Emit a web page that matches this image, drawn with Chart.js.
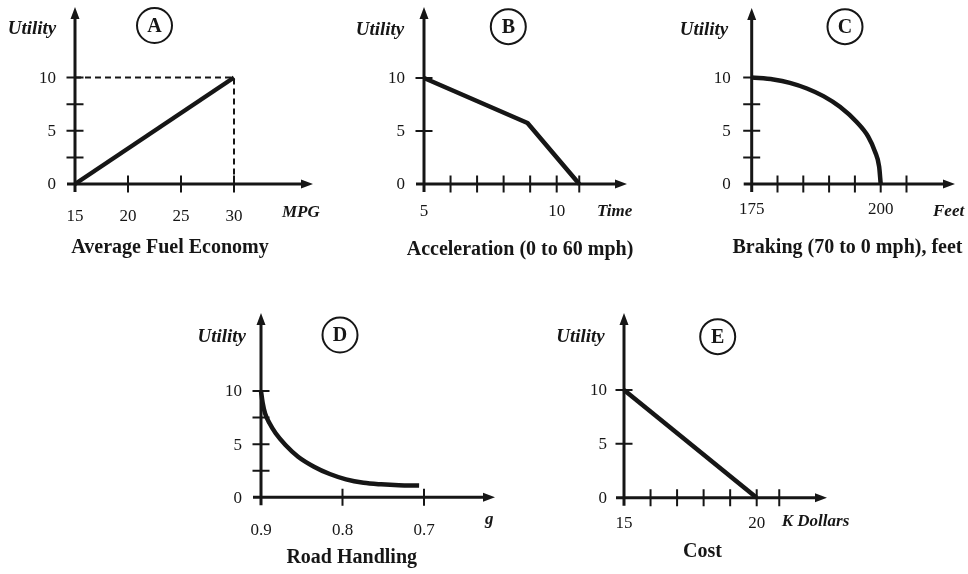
<!DOCTYPE html>
<html>
<head>
<meta charset="utf-8">
<script src="https://cdn.jsdelivr.net/npm/chart.js@4/dist/chart.umd.min.js"></script>
<style>
  html, body { margin: 0; padding: 0; background: #fff; }
  #stage { position: relative; width: 968px; height: 574px; overflow: hidden; background: #fff; }
  #stage canvas { position: absolute; left: 0; top: 0; }
</style>
</head>
<body>
<div id="stage"></div>
<script>
// ---- Utility functions for five car attributes (utility 0 to 10) ----

// A: average fuel economy
const fuelMpg = [15, 30];
const fuelUtility = [0, 10];
const fuelGuideMpg = [15, 30, 30];
const fuelGuideUtility = [10, 10, 0];
const fuelXTicks = [20, 25, 30];
const fuelYTicks = [2.5, 5, 7.5, 10];
const fuelXLabels = [15, 20, 25, 30];

// B: acceleration, 0 to 60 mph time
const accelTime = [5, 8.9, 10.85];
const accelUtility = [10, 5.75, 0];
const accelXTicks = [6, 7, 8, 9, 10, 10.85];
const accelYTicks = [5, 10];
const accelXLabels = [5, 10];

// C: braking distance, 70 to 0 mph
const brakeFeet = [175, 179.2, 182.4, 185.7, 188.9, 192.1, 195.3, 197.6, 198.9, 199.7, 200];
const brakeUtility = [10, 9.81, 9.5, 8.97, 8.25, 7.25, 5.84, 4.43, 3.03, 1.62, 0];
const brakeXTicks = [180, 185, 190, 195, 200, 205];
const brakeYTicks = [2.5, 5, 7.5, 10];
const brakeXLabels = [175, 200];

// D: road handling, lateral g
const handlingG = [0.9, 0.898, 0.895, 0.8895, 0.882, 0.870, 0.8545, 0.835, 0.8156, 0.7957, 0.7742, 0.7526, 0.731, 0.706];
const handlingUtility = [10, 8.9, 7.9, 6.96, 6.02, 4.92, 3.82, 2.88, 2.19, 1.69, 1.37, 1.22, 1.13, 1.1];
const handlingXTicks = [0.8, 0.7];
const handlingYTicks = [2.5, 5, 7.5, 10];
const handlingXLabels = [0.9, 0.8, 0.7];

// E: cost in thousands of dollars
const costK = [15, 20];
const costUtility = [10, 0];
const costXTicks = [16, 17, 18, 19, 20, 20.85];
const costYTicks = [5, 10];
const costXLabels = [15, 20];

const utilityLabels = [0, 5, 10];
const panelLetters = ['A', 'B', 'C', 'D', 'E'];
const panelTitles = ['Average Fuel Economy', 'Acceleration (0 to 60 mph)', 'Braking (70 to 0 mph), feet', 'Road Handling', 'Cost'];
const unitNames = ['MPG', 'Time', 'Feet', 'g', 'K Dollars'];
const utilityName = 'Utility';

// ---- drawing ----
const W = 968, H = 574;
const INK = '#161616';
const SERIF = '"Liberation Serif", "Times New Roman", serif';

function axesPlugin(cfg) {
  return {
    id: 'utilityAxes',
    beforeDatasetsDraw(chart) {
      const ctx = chart.ctx, xs = chart.scales.x, ys = chart.scales.y;
      const ox = xs.getPixelForValue(cfg.xMin), oy = ys.getPixelForValue(0);
      ctx.save();
      ctx.strokeStyle = INK; ctx.fillStyle = INK;
      // axis lines with a short overhang past the origin
      ctx.lineWidth = 3;
      ctx.beginPath();
      ctx.moveTo(ox - 8, oy); ctx.lineTo(cfg.xArrow - 10, oy);
      ctx.moveTo(ox, oy + 8); ctx.lineTo(ox, cfg.yArrow + 10);
      ctx.stroke();
      // arrowheads
      ctx.beginPath();
      ctx.moveTo(cfg.xArrow, oy); ctx.lineTo(cfg.xArrow - 12, oy - 4.5); ctx.lineTo(cfg.xArrow - 12, oy + 4.5); ctx.closePath();
      ctx.moveTo(ox, cfg.yArrow); ctx.lineTo(ox - 4.5, cfg.yArrow + 12); ctx.lineTo(ox + 4.5, cfg.yArrow + 12); ctx.closePath();
      ctx.fill();
      // tick marks crossing the axes
      ctx.lineWidth = 2;
      ctx.beginPath();
      cfg.xTicks.forEach(v => { const x = xs.getPixelForValue(v); ctx.moveTo(x, oy - 8.5); ctx.lineTo(x, oy + 8.5); });
      cfg.yTicks.forEach(v => { const y = ys.getPixelForValue(v); ctx.moveTo(ox - 8.5, y); ctx.lineTo(ox + 8.5, y); });
      ctx.stroke();
      ctx.restore();
    },
    afterDraw(chart) {
      const ctx = chart.ctx, xs = chart.scales.x, ys = chart.scales.y;
      const ox = xs.getPixelForValue(cfg.xMin), oy = ys.getPixelForValue(0);
      const t = cfg.text;
      ctx.save();
      ctx.fillStyle = INK; ctx.strokeStyle = INK;
      // tick labels
      ctx.font = '17px ' + SERIF;
      ctx.textBaseline = 'middle';
      ctx.textAlign = 'right';
      utilityLabels.forEach(v => ctx.fillText(String(v), ox - t.yLabelGap, ys.getPixelForValue(v) + 1));
      ctx.textAlign = 'center';
      cfg.xLabels.forEach(v => ctx.fillText(cfg.fmt ? cfg.fmt(v) : String(v), xs.getPixelForValue(v), oy + t.xLabelDrop));
      // unit label at the end of the x axis
      ctx.font = 'italic bold 17px ' + SERIF;
      ctx.textBaseline = 'alphabetic';
      ctx.textAlign = 'left';
      ctx.fillText(unitNames[cfg.idx], t.unit[0], t.unit[1]);
      // y axis name
      ctx.font = 'italic bold 19px ' + SERIF;
      ctx.textAlign = 'center';
      ctx.fillText(utilityName, t.utility[0], t.utility[1]);
      // panel title
      ctx.font = 'bold 20px ' + SERIF;
      ctx.fillText(panelTitles[cfg.idx], t.title[0], t.title[1]);
      // circled letter
      ctx.lineWidth = 2;
      ctx.beginPath();
      ctx.arc(t.badge[0], t.badge[1], 17.5, 0, Math.PI * 2);
      ctx.stroke();
      ctx.font = 'bold 20px ' + SERIF;
      ctx.textBaseline = 'middle';
      ctx.fillText(panelLetters[cfg.idx], t.badge[0], t.badge[1] + 1);
      ctx.restore();
    }
  };
}

function series(xv, yv, opts) {
  return Object.assign({
    data: xv.map((x, i) => ({ x: x, y: yv[i] })),
    borderColor: INK,
    borderWidth: 4.5,
    pointRadius: 0,
    fill: false,
    clip: false,
    tension: 0,
    borderJoinStyle: 'round',
    borderCapStyle: 'butt'
  }, opts || {});
}

const stage = document.getElementById('stage');

function panel(cfg) {
  const canvas = document.createElement('canvas');
  canvas.width = W; canvas.height = H;
  canvas.style.width = W + 'px'; canvas.style.height = H + 'px';
  stage.appendChild(canvas);
  const f = cfg.frame;
  new Chart(canvas, {
    type: 'line',
    data: { datasets: cfg.datasets },
    options: {
      responsive: false,
      animation: false,
      devicePixelRatio: 1,
      events: [],
      layout: { padding: { left: f.left, right: W - f.right, top: f.top, bottom: H - f.bottom } },
      scales: {
        x: { type: 'linear', min: cfg.xMin, max: cfg.xMax, reverse: !!cfg.reverse, display: false },
        y: { type: 'linear', min: 0, max: 10, display: false }
      },
      plugins: { legend: { display: false }, tooltip: { enabled: false }, title: { display: false } }
    },
    plugins: [axesPlugin(cfg)]
  });
}

panel({
  idx: 0, xMin: 15, xMax: 30,
  frame: { left: 75, right: 234, top: 77.5, bottom: 184 },
  xArrow: 313, yArrow: 7,
  xTicks: fuelXTicks, yTicks: fuelYTicks, xLabels: fuelXLabels,
  text: { yLabelGap: 19, xLabelDrop: 33, unit: [282, 217], utility: [32, 34], title: [170, 253], badge: [154.5, 25.5] },
  datasets: [
    series(fuelGuideMpg, fuelGuideUtility, { borderWidth: 2, borderDash: [6, 4], borderJoinStyle: 'miter' }),
    series(fuelMpg, fuelUtility)
  ]
});

panel({
  idx: 1, xMin: 5, xMax: 10,
  frame: { left: 424, right: 556.7, top: 78, bottom: 184 },
  xArrow: 627, yArrow: 7,
  xTicks: accelXTicks, yTicks: accelYTicks, xLabels: accelXLabels,
  text: { yLabelGap: 19, xLabelDrop: 28, unit: [597, 216], utility: [380, 35], title: [520, 255], badge: [508.3, 26.7] },
  datasets: [ series(accelTime, accelUtility) ]
});

panel({
  idx: 2, xMin: 175, xMax: 200,
  frame: { left: 751.7, right: 880.7, top: 77.5, bottom: 184 },
  xArrow: 955, yArrow: 8,
  xTicks: brakeXTicks, yTicks: brakeYTicks, xLabels: brakeXLabels,
  text: { yLabelGap: 21, xLabelDrop: 26, unit: [933, 216], utility: [704, 35], title: [847.5, 253], badge: [845, 26.7] },
  datasets: [ series(brakeFeet, brakeUtility, { cubicInterpolationMode: 'monotone' }) ]
});

panel({
  idx: 3, xMin: 0.9, xMax: 0.7, reverse: true,
  frame: { left: 261, right: 424, top: 391, bottom: 497.3 },
  xArrow: 495, yArrow: 313,
  xTicks: handlingXTicks, yTicks: handlingYTicks, xLabels: handlingXLabels,
  fmt: v => v.toFixed(1),
  text: { yLabelGap: 19, xLabelDrop: 33, unit: [485, 524], utility: [221.7, 341.7], title: [351.7, 563], badge: [340, 335] },
  datasets: [ series(handlingG, handlingUtility, { cubicInterpolationMode: 'monotone' }) ]
});

panel({
  idx: 4, xMin: 15, xMax: 20,
  frame: { left: 624, right: 756.7, top: 390, bottom: 497.7 },
  xArrow: 827, yArrow: 313,
  xTicks: costXTicks, yTicks: costYTicks, xLabels: costXLabels,
  text: { yLabelGap: 17, xLabelDrop: 26, unit: [781.7, 526], utility: [580.5, 341.7], title: [702.5, 556.7], badge: [717.7, 336.7] },
  datasets: [ series(costK, costUtility) ]
});
</script>
</body>
</html>
